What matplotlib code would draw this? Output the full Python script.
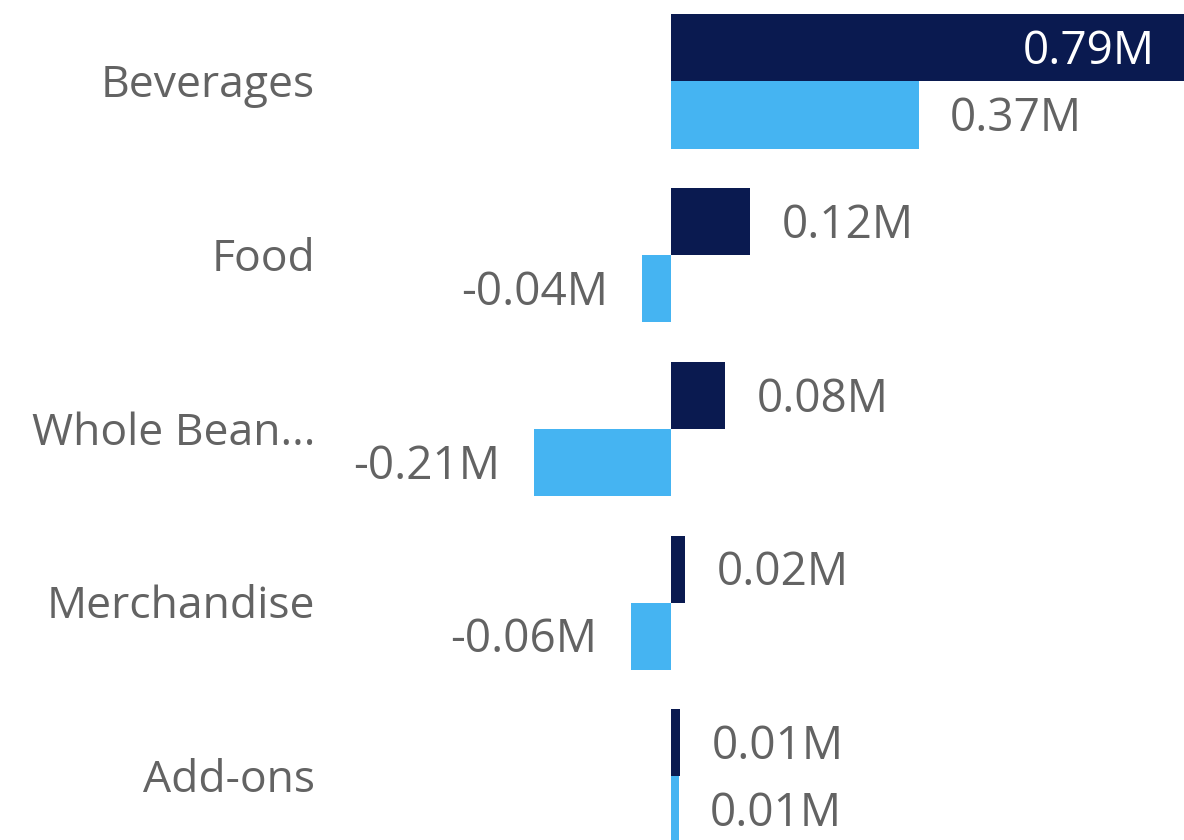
import matplotlib
matplotlib.use("Agg")
import matplotlib.pyplot as plt
from matplotlib import transforms

categories = ["Beverages", "Food", "Whole Bean...", "Merchandise", "Add-ons"]
series_dark = [0.785, 0.121, 0.082, 0.021, 0.014]
series_light = [0.379, -0.044, -0.209, -0.061, 0.012]
labels_dark = ["0.79M", "0.12M", "0.08M", "0.02M", "0.01M"]
labels_light = ["0.37M", "-0.04M", "-0.21M", "-0.06M", "0.01M"]

DARK = "#0A1A50"
LIGHT = "#45B4F2"
TEXT = "#636363"
FONT = ["Open Sans", "DejaVu Sans"]
CAT_FS = 32
VAL_FS = 33

W, H = 1184, 840
fig = plt.figure(figsize=(W / 100, H / 100), dpi=100)
left_px = 330
ax = fig.add_axes([left_px / W, 0, 1 - left_px / W, 1])

s = 653.5  # px per M
zero_px = 671
ax.set_xlim((left_px - zero_px) / s, (W - zero_px) / s)
ax.set_ylim(4.367, -0.469)

bh = 0.386
ys = list(range(len(categories)))
ax.barh([y - bh / 2 for y in ys], series_dark, height=bh, color=DARK)
ax.barh([y + bh / 2 for y in ys], series_light, height=bh, color=LIGHT)

ax.set_yticks([])
ax.set_xticks([])
for sp in ax.spines.values():
    sp.set_visible(False)

off = transforms.offset_copy


def cap_half(fs):
    return fs * 100 / 72 * 0.714 / 2


# category labels
blend = transforms.blended_transform_factory(ax.transAxes, ax.transData)
for i, c in enumerate(categories):
    t = off(blend, fig=fig, x=-15, y=-cap_half(CAT_FS), units="dots")
    ax.text(0, i, c, transform=t, ha="right", va="baseline", fontsize=CAT_FS,
            color=TEXT, family=FONT)

dy = -cap_half(VAL_FS)
for i, (v, lab) in enumerate(zip(series_dark, labels_dark)):
    y = i - bh / 2
    if i == 0:
        t = off(ax.transData, fig=fig, x=-29, y=dy, units="dots")
        ax.text(v, y, lab, transform=t, ha="right", va="baseline", fontsize=VAL_FS,
                color="white", family=FONT)
    else:
        t = off(ax.transData, fig=fig, x=32, y=dy, units="dots")
        ax.text(v, y, lab, transform=t, ha="left", va="baseline", fontsize=VAL_FS,
                color=TEXT, family=FONT)
for i, (v, lab) in enumerate(zip(series_light, labels_light)):
    y = i + bh / 2
    if v >= 0:
        t = off(ax.transData, fig=fig, x=31, y=dy, units="dots")
        ax.text(v, y, lab, transform=t, ha="left", va="baseline", fontsize=VAL_FS,
                color=TEXT, family=FONT)
    else:
        t = off(ax.transData, fig=fig, x=-34, y=dy, units="dots")
        ax.text(v, y, lab, transform=t, ha="right", va="baseline", fontsize=VAL_FS,
                color=TEXT, family=FONT)

fig.savefig("out.png", dpi=100)
